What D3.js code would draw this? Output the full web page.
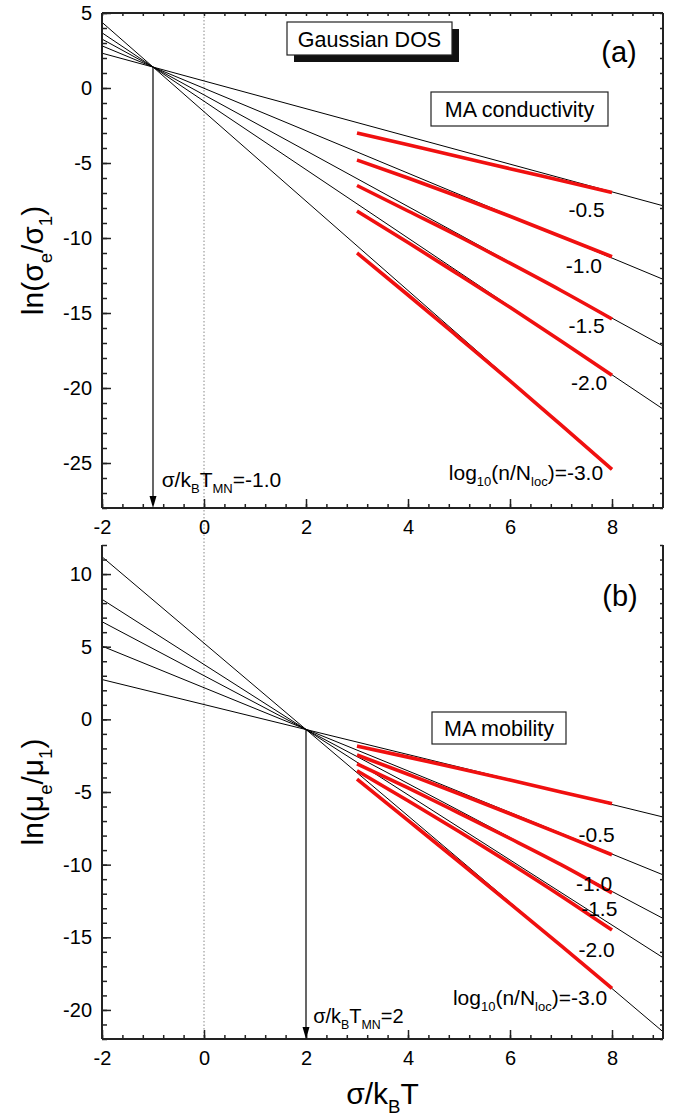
<!DOCTYPE html>
<html>
<head>
<meta charset="utf-8">
<script src="https://cdn.jsdelivr.net/npm/d3@7"></script>
<style>
  body { margin: 0; background: #fff; }
  svg { display: block; font-family: "Liberation Sans", Arial, sans-serif; }
</style>
</head>
<body>
<div class="container"></div>
<script>
// ---- data ----
const levelLabels = ['-0.5', '-1.0', '-1.5', '-2.0', '-3.0']
const sigmaFit = [3, 4, 5, 6, 7, 8]
const xTicks = [-2, 0, 2, 4, 6, 8]

// (a) conductivity: straight lines from sigma=-2 to an end point
const condLeft = [2.32, 2.81, 3.26, 3.68, 4.38]
const condEndX = [9, 9, 9, 9, 8]
const condEnd = [-7.85, -12.75, -17.2, -21.4, -25.42]
const condFit = [
  [-3.0, -3.79, -4.58, -5.38, -6.17, -6.96],
  [-4.8, -6.0, -7.25, -8.55, -9.9, -11.25],
  [-6.5, -8.2, -9.9, -11.68, -13.5, -15.4],
  [-8.2, -10.3, -12.45, -14.62, -16.86, -19.15],
  [-11.0, -13.8, -16.65, -19.52, -22.46, -25.42]
]
const condYTicks = [5, 0, -5, -10, -15, -20, -25]
const condMN = [-1.0, 1.4]

// (b) mobility
const mobLeft = [2.74, 5.04, 6.72, 8.26, 11.19]
const mobEndX = [9, 9, 9, 9, 9]
const mobEnd = [-6.72, -10.7, -13.7, -16.4, -21.5]
const mobFit = [
  [-1.84, -2.6, -3.38, -4.18, -5.0, -5.8],
  [-2.45, -3.78, -5.12, -6.5, -7.9, -9.32],
  [-3.06, -4.72, -6.45, -8.2, -10.0, -11.95],
  [-3.54, -5.6, -7.72, -9.9, -12.15, -14.5],
  [-4.11, -6.95, -9.8, -12.68, -15.58, -18.52]
]
const mobYTicks = [10, 5, 0, -5, -10, -15, -20]
const mobMN = [2.0, -0.7]

// ---- layout ----
const w = 680
const h = 1120
const svg = d3.select('.container').append('svg')
  .attr('width', w)
  .attr('height', h)

const x = d3.scaleLinear().domain([-2, 9]).range([102, 663])
const yA = d3.scaleLinear().domain([-28, 5]).range([508, 13])
const yB = d3.scaleLinear().domain([-22, 12]).range([1039, 545])

const fmt = d => String(d)

// rich text with subscripts
function rich(g, x0, y0, parts, size, anchor) {
  const t = g.append('text')
    .attr('x', x0)
    .attr('y', y0)
    .attr('font-size', size)
    .attr('text-anchor', anchor || 'start')
    .attr('fill', '#000')
  let shift = 0
  parts.forEach(p => {
    const sub = Array.isArray(p)
    const s = sub ? p[0] : p
    const target = sub ? size * 0.3 : 0
    t.append('tspan')
      .attr('dy', target - shift)
      .attr('font-size', sub ? size * 0.62 : size)
      .text(s)
    shift = target
  })
  return t
}

function styleAxis(g) {
  g.select('.domain').remove()
  g.selectAll('.tick line').attr('stroke', '#222').attr('stroke-width', 1.5)
  g.selectAll('.tick text').attr('fill', '#000').attr('font-family', '"Liberation Sans", Arial, sans-serif')
}

function panel(y, yTicks, hasTop) {
  const [yb, yt] = y.range()
  const xMinor = d3.range(-2, 9.001, 0.4)
  const yMinor = d3.range(y.domain()[0], y.domain()[1] + 0.001, 1)

  // bottom
  svg.append('g').attr('transform', `translate(0,${yb})`)
    .call(d3.axisBottom(x).tickValues(xMinor).tickSize(-4).tickFormat(''))
    .call(styleAxis)
  svg.append('g').attr('transform', `translate(0,${yb})`)
    .call(d3.axisBottom(x).tickValues(xTicks).tickSize(-9).tickPadding(12).tickFormat(fmt))
    .call(styleAxis)
    .selectAll('text').attr('font-size', 20)

  // left
  svg.append('g').attr('transform', `translate(${x(-2)},0)`)
    .call(d3.axisLeft(y).tickValues(yMinor).tickSize(-5).tickFormat(''))
    .call(styleAxis)
  svg.append('g').attr('transform', `translate(${x(-2)},0)`)
    .call(d3.axisLeft(y).tickValues(yTicks).tickSize(-9).tickPadding(10).tickFormat(fmt))
    .call(styleAxis)
    .selectAll('text').attr('font-size', 20)

  // right
  svg.append('g').attr('transform', `translate(${x(9)},0)`)
    .call(d3.axisRight(y).tickValues(yMinor).tickSize(-3).tickFormat(''))
    .call(styleAxis)

  if (hasTop) {
    svg.append('g').attr('transform', `translate(0,${yt})`)
      .call(d3.axisTop(x).tickValues(xMinor).tickSize(-3).tickFormat(''))
      .call(styleAxis)
  }

  // frame
  const fr = svg.append('g').attr('stroke', '#222').attr('stroke-width', 2).attr('fill', 'none')
  fr.append('line').attr('x1', x(-2)).attr('x2', x(9)).attr('y1', yb).attr('y2', yb)
  fr.append('line').attr('x1', x(-2)).attr('x2', x(-2)).attr('y1', yt).attr('y2', yb)
  fr.append('line').attr('x1', x(9)).attr('x2', x(9)).attr('y1', yt).attr('y2', yb)
  if (hasTop) fr.append('line').attr('x1', x(-2)).attr('x2', x(9)).attr('y1', yt).attr('y2', yt)
}

function curves(y, left, endX, end, fit) {
  svg.append('g').selectAll('path')
    .data(left.map((v, i) => [[-2, v], [endX[i], end[i]]]))
    .enter()
    .append('path')
    .attr('d', d3.line().x(d => x(d[0])).y(d => y(d[1])))
    .attr('fill', 'none')
    .attr('stroke', '#000')
    .attr('stroke-width', 1)
  svg.append('g').selectAll('path')
    .data(fit.map(vals => vals.map((v, j) => [sigmaFit[j], v])))
    .enter()
    .append('path')
    .attr('d', d3.line().x(d => x(d[0])).y(d => y(d[1])).curve(d3.curveMonotoneX))
    .attr('fill', 'none')
    .attr('stroke', '#f01010')
    .attr('stroke-width', 3.6)
}

function arrow(y, mn) {
  const x0 = x(mn[0])
  const yb = y.range()[0]
  svg.append('line')
    .attr('x1', x0).attr('x2', x0)
    .attr('y1', y(mn[1])).attr('y2', yb - 8)
    .attr('stroke', '#000').attr('stroke-width', 1.2)
  svg.append('path')
    .attr('d', `M${x0 - 3.5},${yb - 12}L${x0 + 3.5},${yb - 12}L${x0},${yb}Z`)
    .attr('fill', '#000')
}

function box(x0, y0, bw, bh, label, shadow) {
  if (shadow) {
    svg.append('rect').attr('x', x0 + 7).attr('y', y0 + 7).attr('width', bw).attr('height', bh).attr('fill', '#111')
  }
  svg.append('rect').attr('x', x0).attr('y', y0).attr('width', bw).attr('height', bh)
    .attr('fill', '#fff').attr('stroke', '#222').attr('stroke-width', 1.2)
  svg.append('text').attr('x', x0 + bw / 2).attr('y', y0 + bh / 2 + 8)
    .attr('text-anchor', 'middle').attr('font-size', 21.5).text(label)
}

// dotted line at sigma = 0 running through both panels
svg.append('line')
  .attr('x1', x(0)).attr('x2', x(0))
  .attr('y1', yA(5)).attr('y2', yB(-22))
  .attr('stroke', '#888').attr('stroke-width', 1).attr('stroke-dasharray', '1.5,2')

// ---- panel (a) ----
curves(yA, condLeft, condEndX, condEnd, condFit)
panel(yA, condYTicks, true)
arrow(yA, condMN)
box(287, 22, 165, 33, 'Gaussian DOS', true)
box(431, 92, 177, 34, 'MA conductivity', false)
svg.append('text').attr('x', 619).attr('y', 62).attr('text-anchor', 'middle').attr('font-size', 29).text('(a)')

const labA = [[7.5, -8.6], [7.45, -12.35], [7.5, -16.3], [7.55, -20.1]]
labA.forEach((p, i) => {
  svg.append('text').attr('x', x(p[0])).attr('y', yA(p[1])).attr('text-anchor', 'middle')
    .attr('font-size', 21).text(levelLabels[i])
})
rich(svg, x(4.8), yA(-26.1), ['log', ['10'], '(n/N', ['loc'], ')=', '-3.0'], 21, 'start')
rich(svg, x(-0.83), yA(-26.6), ['σ/k', ['B'], 'T', ['MN'], '=-1.0'], 21, 'start')

// ---- panel (b) ----
curves(yB, mobLeft, mobEndX, mobEnd, mobFit)
panel(yB, mobYTicks, false)
arrow(yB, mobMN)
box(432, 712, 134, 32, 'MA mobility', false)
svg.append('text').attr('x', 620).attr('y', 606).attr('text-anchor', 'middle').attr('font-size', 29).text('(b)')

const labB = [[7.7, -8.44], [7.65, -11.82], [7.75, -13.54], [7.7, -16.36]]
labB.forEach((p, i) => {
  svg.append('text').attr('x', x(p[0])).attr('y', yB(p[1])).attr('text-anchor', 'middle')
    .attr('font-size', 21).text(levelLabels[i])
})
rich(svg, x(4.88), yB(-19.66), ['log', ['10'], '(n/N', ['loc'], ')=', '-3.0'], 21, 'start')
rich(svg, x(2.14), yB(-20.9), ['σ/k', ['B'], 'T', ['MN'], '=2'], 20, 'start')

// ---- axis titles ----
rich(svg, 0, 0, ['ln(σ', ['e'], '/σ', ['1'], ')'], 30, 'middle')
  .attr('transform', `translate(43,${(yA(5) + yA(-28)) / 2}) rotate(-90)`)
rich(svg, 0, 0, ['ln(μ', ['e'], '/μ', ['1'], ')'], 30, 'middle')
  .attr('transform', `translate(43,${(yB(12) + yB(-22)) / 2}) rotate(-90)`)
rich(svg, (x(-2) + x(9)) / 2, 1104, ['σ/k', ['B'], 'T'], 30, 'middle')
</script>
</body>
</html>
